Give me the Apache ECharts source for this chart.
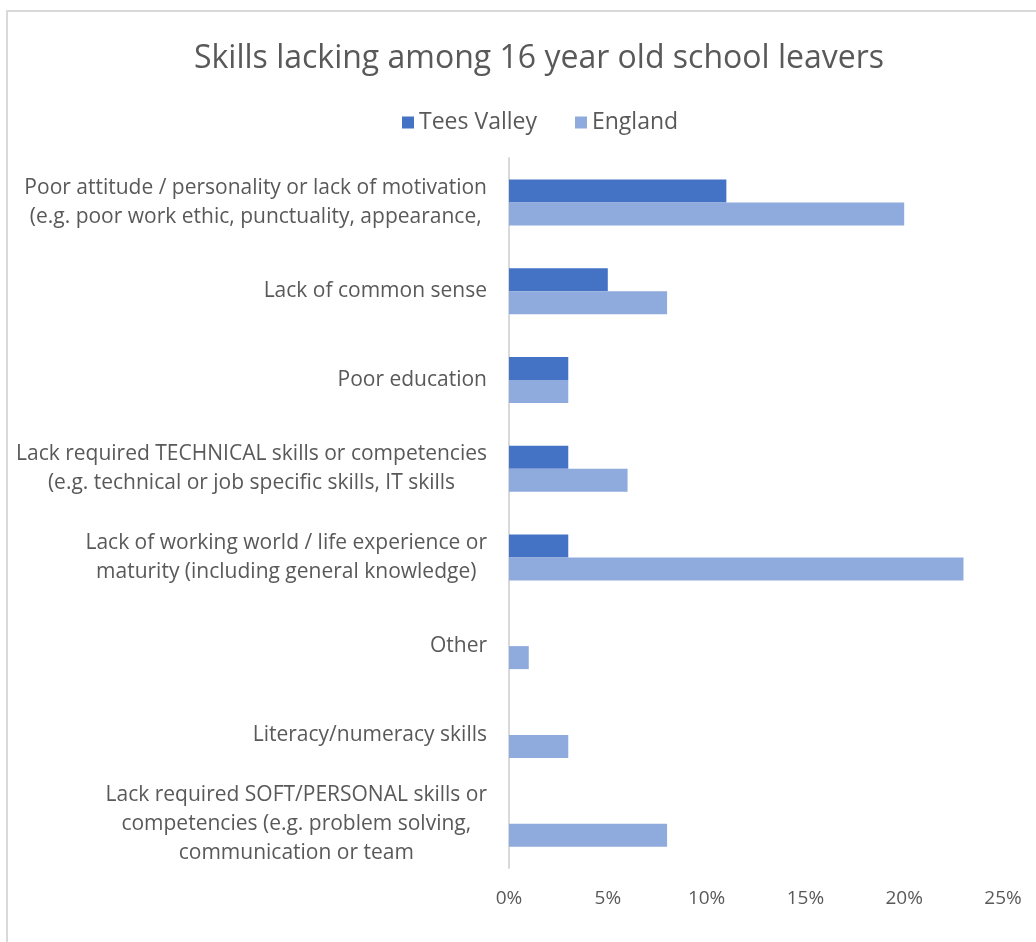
<!DOCTYPE html>
<html>
<head>
<meta charset="utf-8">
<script src="https://cdn.jsdelivr.net/npm/echarts@6/dist/echarts.min.js"></script>
<style>
  html, body { margin: 0; padding: 0; background: #fff; overflow: hidden; }
  #frame { position: absolute; left: 6px; top: 10px; width: 1200px; height: 1100px;
           border: 2px solid #d9d9d9; box-sizing: border-box; }
  #chart { position: absolute; left: 0; top: 0; width: 1036px; height: 942px; }
</style>
</head>
<body>
<div id="frame"></div>
<div id="chart"></div>
<script>
// Reasons given, top to bottom
const categories = [
  'Poor attitude / personality or lack of motivation\n(e.g. poor work ethic, punctuality, appearance,',
  'Lack of common sense',
  'Poor education',
  'Lack required TECHNICAL skills or competencies\n(e.g. technical or job specific skills, IT skills',
  'Lack of working world / life experience or\nmaturity (including general knowledge)',
  'Other',
  'Literacy/numeracy skills',
  'Lack required SOFT/PERSONAL skills or\ncompetencies (e.g. problem solving,\ncommunication or team'
];
// Share of employers citing each reason (%)
const teesValley = [11, 5, 3, 3, 3, 0, 0, 0];
const england = [20, 8, 3, 6, 23, 1, 3, 8];
const xTicks = { min: 0, max: 25, interval: 5 };

const font = '"Open Sans", Lato, sans-serif';
const grey = '#595959';

const chart = echarts.init(document.getElementById('chart'));
chart.setOption({
  animation: false,
  title: {
    text: 'Skills lacking among 16 year old school leavers',
    left: 534,
    textAlign: 'center',
    top: 38,
    textStyle: { fontFamily: font, fontSize: 32, fontWeight: 'normal', color: grey }
  },
  legend: {
    top: 106,
    left: 397,
    itemWidth: 12,
    itemHeight: 12,
    itemGap: 38,
    icon: 'rect',
    textStyle: { fontFamily: font, fontSize: 23, color: grey }
  },
  grid: { left: 509, right: 33, top: 158, bottom: 74 },
  xAxis: {
    type: 'value',
    min: xTicks.min,
    max: xTicks.max,
    interval: xTicks.interval,
    axisLine: { show: false },
    axisTick: { show: false },
    splitLine: { show: false },
    axisLabel: {
      margin: 21,
      fontFamily: font, fontSize: 19, color: grey,
      formatter: v => v + '%'
    }
  },
  yAxis: {
    type: 'category',
    inverse: true,
    data: categories,
    axisLine: { show: true, lineStyle: { color: '#d9d9d9', width: 2 } },
    axisTick: { show: false },
    axisLabel: {
      margin: 22,
      align: 'right',
      fontFamily: font, fontSize: 21, color: grey,
      lineHeight: 29,
      formatter: v => v.split('\n').map(l => '{c|' + l + '}').join('\n'),
      rich: { c: { align: 'center', fontFamily: font, fontSize: 21, color: grey, lineHeight: 29 } }
    }
  },
  series: [
    { name: 'Tees Valley', type: 'bar', data: teesValley, barWidth: 23, barGap: '0%',
      itemStyle: { color: '#4472c4' } },
    { name: 'England', type: 'bar', data: england, barWidth: 23, barGap: '0%',
      itemStyle: { color: '#8faadc' } }
  ]
});
</script>
</body>
</html>
